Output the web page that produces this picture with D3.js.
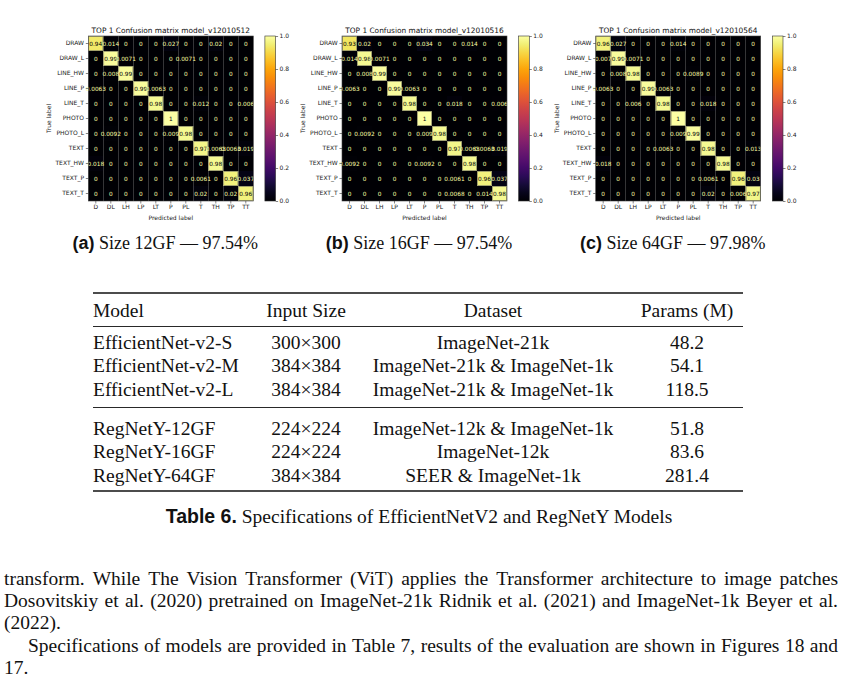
<!DOCTYPE html>
<html lang="en">
<head>
<meta charset="UTF-8">
<title>Confusion matrices</title>
<script src="https://cdn.jsdelivr.net/npm/d3@7"></script>
<style>
  body { margin: 0; background: #fff; }
  svg { display: block; }
</style>
</head>
<body>
<script>
    // class names (rows) and short names (columns)
    const classLabels = ['DRAW', 'DRAW_L', 'LINE_HW', 'LINE_P', 'LINE_T', 'PHOTO', 'PHOTO_L', 'TEXT', 'TEXT_HW', 'TEXT_P', 'TEXT_T']
    const predLabels = ['D', 'DL', 'LH', 'LP', 'LT', 'P', 'PL', 'T', 'TH', 'TP', 'TT']
    const colorbarTicks = [0, 0.2, 0.4, 0.6, 0.8, 1.0]

    const matrix12 = [
        [0.94, 0.014, 0, 0, 0, 0.027, 0, 0, 0.02, 0, 0],
        [0, 0.99, 0.0071, 0, 0, 0, 0.0071, 0, 0, 0, 0],
        [0, 0.008, 0.99, 0, 0, 0, 0, 0, 0, 0, 0],
        [0.0063, 0, 0, 0.99, 0.0063, 0, 0, 0, 0, 0, 0],
        [0, 0, 0, 0, 0.98, 0, 0, 0.012, 0, 0, 0.006],
        [0, 0, 0, 0, 0, 1, 0, 0, 0, 0, 0],
        [0, 0.0092, 0, 0, 0, 0.009, 0.98, 0, 0, 0, 0],
        [0, 0, 0, 0, 0, 0, 0, 0.97, 0.0063, 0.0063, 0.019],
        [0.018, 0, 0, 0, 0, 0, 0, 0, 0.98, 0, 0],
        [0, 0, 0, 0, 0, 0, 0, 0.0061, 0, 0.96, 0.037],
        [0, 0, 0, 0, 0, 0, 0, 0.02, 0, 0.02, 0.96]
    ]
    const matrix16 = [
        [0.93, 0.02, 0, 0, 0, 0.034, 0, 0, 0.014, 0, 0],
        [0.014, 0.98, 0.0071, 0, 0, 0, 0, 0, 0, 0, 0],
        [0, 0.008, 0.99, 0, 0, 0, 0, 0, 0, 0, 0],
        [0.0063, 0, 0, 0.99, 0.0063, 0, 0, 0, 0, 0, 0],
        [0, 0, 0, 0, 0.98, 0, 0, 0.018, 0, 0, 0.006],
        [0, 0, 0, 0, 0, 1, 0, 0, 0, 0, 0],
        [0, 0.0092, 0, 0, 0, 0.009, 0.98, 0, 0, 0, 0],
        [0, 0, 0, 0, 0, 0, 0, 0.97, 0.0063, 0.0063, 0.019],
        [0.0092, 0, 0, 0, 0, 0.0092, 0, 0, 0.98, 0, 0],
        [0, 0, 0, 0, 0, 0, 0, 0.0061, 0, 0.96, 0.037],
        [0, 0, 0, 0, 0, 0, 0, 0.0068, 0, 0.014, 0.98]
    ]
    const matrix64 = [
        [0.96, 0.027, 0, 0, 0, 0.014, 0, 0, 0, 0, 0],
        [0.007, 0.99, 0.0071, 0, 0, 0, 0, 0, 0, 0, 0],
        [0, 0.008, 0.98, 0, 0, 0, 0.0089, 0, 0, 0, 0],
        [0.0063, 0, 0, 0.99, 0.0063, 0, 0, 0, 0, 0, 0],
        [0, 0, 0.006, 0, 0.98, 0, 0, 0.018, 0, 0, 0],
        [0, 0, 0, 0, 0, 1, 0, 0, 0, 0, 0],
        [0, 0, 0, 0, 0, 0.009, 0.99, 0, 0, 0, 0],
        [0, 0, 0, 0, 0.0063, 0, 0, 0.98, 0, 0, 0.013],
        [0.018, 0, 0, 0, 0, 0, 0, 0, 0.98, 0, 0],
        [0, 0, 0, 0, 0, 0, 0, 0.0061, 0, 0.96, 0.03],
        [0, 0, 0, 0, 0, 0, 0, 0.02, 0, 0.006, 0.97]
    ]
    const modelIds = ['v12010512', 'v12010516', 'v12010564']
    const captionTags = ['(a)', '(b)', '(c)']
    const captionTexts = [' Size 12GF \u2014 97.54%', ' Size 16GF \u2014 97.54%', ' Size 64GF \u2014 97.98%']

    // table 6
    const tableHeader = ['Model', 'Input Size', 'Dataset', 'Params (M)']
    const tableModels = ['EfficientNet-v2-S', 'EfficientNet-v2-M', 'EfficientNet-v2-L', 'RegNetY-12GF', 'RegNetY-16GF', 'RegNetY-64GF']
    const tableInputs = ['300\u00d7300', '384\u00d7384', '384\u00d7384', '224\u00d7224', '224\u00d7224', '384\u00d7384']
    const tableDatasets = ['ImageNet-21k', 'ImageNet-21k & ImageNet-1k', 'ImageNet-21k & ImageNet-1k',
        'ImageNet-12k & ImageNet-1k', 'ImageNet-12k', 'SEER & ImageNet-1k']
    const tableParams = ['48.2', '54.1', '118.5', '51.8', '83.6', '281.4']

    const bodyLines = [
        'transform. While The Vision Transformer (ViT) applies the Transformer architecture to image patches',
        'Dosovitskiy et al. (2020) pretrained on ImageNet-21k Ridnik et al. (2021) and ImageNet-1k Beyer et al.',
        '(2022).',
        'Specifications of models are provided in Table 7, results of the evaluation are shown in Figures 18 and',
        '17.'
    ]

    const W = 842, H = 698
    const serif = 'Liberation Serif, Times New Roman, serif'
    const sans = 'Liberation Sans, Arial, sans-serif'
    const textSize = 19.5
    const svg = d3.select('body').append('svg')
        .attr('width', W)
        .attr('height', H)
        .style('font-family', 'DejaVu Sans')

    const grad = svg.append('defs').append('linearGradient')
        .attr('id', 'inferno')
        .attr('x1', 0).attr('y1', 1).attr('x2', 0).attr('y2', 0)
    grad.selectAll('stop').data(d3.range(0, 1.0001, 0.05)).enter().append('stop')
        .attr('offset', d => d)
        .attr('stop-color', d => d3.interpolateInferno(d))

    const side = 165
    const panelStep = 253.7, mx = 88.3, my = 36
    const x = d3.scaleBand().domain(predLabels).range([0, side])
    const y = d3.scaleBand().domain(classLabels).range([0, side])
    const c = d3.scaleLinear().domain([0, 1]).range([side, 0])
    const fmt = d3.format('.2~g')

    const panels = [matrix12, matrix16, matrix64].map((m, i) => ({
        matrix: m, title: 'TOP 1 Confusion matrix model_' + modelIds[i],
        tag: captionTags[i], caption: captionTexts[i]
    }))

    const styleAxis = (g) => {
        g.select('.domain').remove()
        g.selectAll('line').attr('stroke', '#333').attr('stroke-width', 0.6)
        g.selectAll('text').attr('font-size', 6).attr('fill', '#222').attr('font-family', 'DejaVu Sans')
    }

    panels.forEach((p, i) => {
        const g = svg.append('g').attr('transform', `translate(${mx + i * panelStep},${my})`)
        const cells = []
        p.matrix.forEach((row, r) => row.forEach((v, k) => cells.push({ r: classLabels[r], k: predLabels[k], v })))

        g.selectAll('rect.cell').data(cells).enter().append('rect')
            .attr('class', 'cell')
            .attr('x', d => x(d.k))
            .attr('y', d => y(d.r))
            .attr('width', x.bandwidth())
            .attr('height', y.bandwidth())
            .attr('fill', d => d3.interpolateInferno(d.v))
        g.selectAll('rect.hi').data(cells.filter(d => d.v > 0.5)).enter().append('rect')
            .attr('class', 'hi')
            .attr('x', d => x(d.k) + 0.4)
            .attr('y', d => y(d.r) + 0.4)
            .attr('width', x.bandwidth() - 0.8)
            .attr('height', y.bandwidth() - 0.8)
            .attr('fill', 'none')
            .attr('stroke', '#8f8f6a')
            .attr('stroke-width', 0.8)
        g.selectAll('text.val').data(cells).enter().append('text')
            .attr('class', 'val')
            .attr('x', d => x(d.k) + x.bandwidth() / 2)
            .attr('y', d => y(d.r) + y.bandwidth() / 2)
            .attr('dy', '0.35em')
            .attr('text-anchor', 'middle')
            .attr('font-size', 5.8)
            .attr('fill', d => d.v > 0.5 ? d3.interpolateInferno(0) : d3.interpolateInferno(1))
            .text(d => fmt(d.v))
        g.append('rect')
            .attr('width', side).attr('height', side)
            .attr('fill', 'none').attr('stroke', '#444').attr('stroke-width', 0.6)

        g.append('g').call(d3.axisLeft(y).tickSize(2.5).tickPadding(1.8)).call(styleAxis)
        g.append('g').attr('transform', `translate(0,${side})`)
            .call(d3.axisBottom(x).tickSize(2.5).tickPadding(1.2)).call(styleAxis)

        g.append('text')
            .attr('x', side / 2).attr('y', -3)
            .attr('text-anchor', 'middle')
            .attr('font-size', 7.4)
            .attr('fill', '#111')
            .text(p.title)
        g.append('text')
            .attr('x', side / 2).attr('y', side + 18.5)
            .attr('text-anchor', 'middle')
            .attr('font-size', 6)
            .attr('fill', '#222')
            .text('Predicted label')
        g.append('text')
            .attr('transform', `translate(${-37},${side / 2}) rotate(-90)`)
            .attr('text-anchor', 'middle')
            .attr('font-size', 6)
            .attr('fill', '#222')
            .text('True label')

        const cb = g.append('g').attr('transform', `translate(${side + 11.6},0)`)
        cb.append('rect')
            .attr('width', 10.7).attr('height', side)
            .attr('fill', 'url(#inferno)')
            .attr('stroke', '#333').attr('stroke-width', 0.6)
        cb.append('g').attr('transform', 'translate(10.7,0)')
            .call(d3.axisRight(c).tickValues(colorbarTicks).tickFormat(d3.format('.1f')).tickSize(2.5).tickPadding(1.5))
            .call(styleAxis)

        const cap = svg.append('text')
            .attr('x', mx + i * panelStep + 77)
            .attr('y', 249)
            .attr('text-anchor', 'middle')
            .attr('font-size', 18)
            .attr('fill', '#111')
        cap.append('tspan').attr('font-family', sans).attr('font-weight', 'bold').text(p.tag)
        cap.append('tspan').attr('font-family', serif).text(p.caption)
    })

    // table
    const tx = [93, 306, 493, 687]
    const anchors = ['start', 'middle', 'middle', 'middle']
    const rowY = [342, 365.5, 389, 428, 451.5, 475]
    const tg = svg.append('g').attr('font-family', serif).attr('font-size', textSize).attr('fill', '#111')
    tg.selectAll('text.head').data(tableHeader).enter().append('text')
        .attr('x', (d, k) => tx[k]).attr('y', 310).attr('dy', '0.35em')
        .attr('text-anchor', (d, k) => anchors[k])
        .text(d => d)
    const rows = tableModels.map((m, r) => [m, tableInputs[r], tableDatasets[r], tableParams[r]])
    rows.forEach((row, r) => {
        tg.selectAll(null).data(row).enter().append('text')
            .attr('x', (d, k) => tx[k]).attr('y', rowY[r]).attr('dy', '0.35em')
            .attr('text-anchor', (d, k) => anchors[k])
            .text(d => d)
    })
    const rules = [[293, 1.5], [326.5, 0.9], [407.5, 0.9], [491, 1.5]]
    svg.selectAll('line.rule').data(rules).enter().append('line')
        .attr('x1', 93).attr('x2', 743)
        .attr('y1', d => d[0]).attr('y2', d => d[0])
        .attr('stroke', '#111').attr('stroke-width', d => d[1])

    const tcap = svg.append('text')
        .attr('x', 419).attr('y', 523)
        .attr('text-anchor', 'middle')
        .attr('font-size', textSize)
        .attr('fill', '#111')
    tcap.append('tspan').attr('font-family', sans).attr('font-weight', 'bold').text('Table 6.')
    tcap.append('tspan').attr('font-family', serif).text(' Specifications of EfficientNetV2 and RegNetY Models')

    // paragraph text, justified word by word
    const lineY = [585, 607, 629, 652, 674]
    const justify = [true, true, false, true, false]
    const indent = [0, 0, 0, 24, 0]
    const left = 4, right = 838
    bodyLines.forEach((line, li) => {
        const t = svg.append('text')
            .attr('y', lineY[li])
            .attr('font-family', serif)
            .attr('font-size', textSize)
            .attr('fill', '#111')
        const words = line.split(' ')
        const spans = words.map(w => t.append('tspan').text(w))
        const widths = spans.map(s => s.node().getComputedTextLength())
        const total = d3.sum(widths)
        const x0 = left + indent[li]
        const gap = justify[li] && words.length > 1 ? (right - x0 - total) / (words.length - 1) : textSize * 0.25
        let cx = x0
        spans.forEach((s, k) => {
            s.attr('x', cx)
            cx += widths[k] + gap
        })
    })
</script>
</body>
</html>
